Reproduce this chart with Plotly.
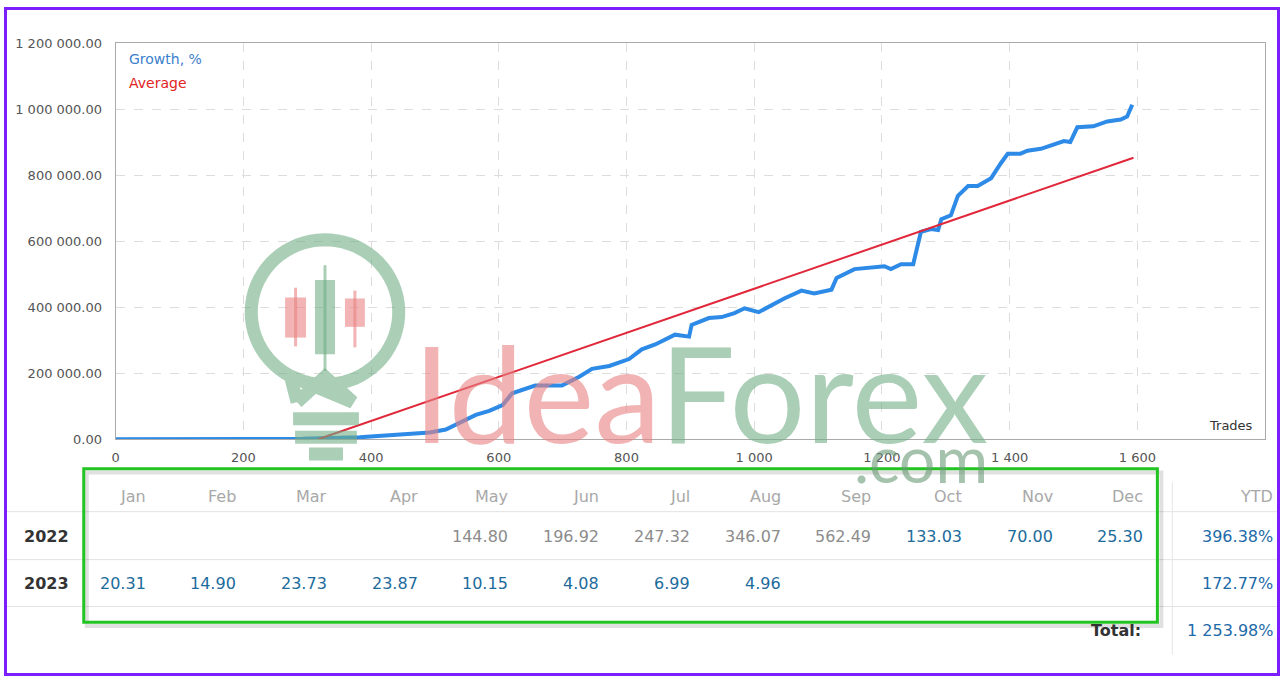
import plotly.graph_objects as go
import numpy as np

W, H = 1280, 684

# ---------------- data ----------------
trades = [0, 150, 293, 382, 434, 492, 517, 532, 543, 564, 585, 606, 621, 657, 699, 726, 746,
          773, 804, 824, 845, 876, 898, 902, 929, 949, 969, 985, 1007, 1027, 1047, 1074,
          1094, 1121, 1129, 1157, 1204, 1214, 1230, 1249, 1261, 1277, 1288, 1293, 1308,
          1319, 1335, 1350, 1371, 1386, 1397, 1417, 1428, 1449, 1469, 1485, 1495, 1506,
          1531, 1553, 1574, 1584, 1592]
growth = [0, 0, 1500, 5900, 11800, 20700, 29600, 44400, 56300, 74100, 85900, 103700,
          139300, 163000, 163000, 189600, 213300, 222200, 243000, 272600, 287400, 317000,
          311100, 346700, 367400, 370400, 382200, 397000, 385200, 405900, 426700, 450400,
          441500, 453300, 488900, 515600, 524400, 515600, 530400, 530400, 628200, 637000,
          634100, 666700, 678500, 737800, 767400, 767400, 791100, 835600, 865200, 865200,
          874100, 880000, 894800, 903700, 900700, 945200, 948100, 963000, 968900, 977800,
          1013300]
avg_trades = [317, 1594]
avg_values = [0, 853000]

y_tickvals = [0, 200000, 400000, 600000, 800000, 1000000, 1200000]
y_ticktext = ["0.00", "200 000.00", "400 000.00", "600 000.00", "800 000.00",
              "1 000 000.00", "1 200 000.00"]
x_tickvals = [0, 200, 400, 600, 800, 1000, 1200, 1400, 1600, 1800]
x_ticktext = ["0", "200", "400", "600", "800", "1 000", "1 200", "1 400", "1 600", "1 800"]

months = ["Jan", "Feb", "Mar", "Apr", "May", "Jun", "Jul", "Aug", "Sep", "Oct", "Nov", "Dec"]
years = ["2022", "2023"]
values_2022 = ["", "", "", "", "144.80", "196.92", "247.32", "346.07", "562.49", "133.03", "70.00", "25.30"]
values_2023 = ["20.31", "14.90", "23.73", "23.87", "10.15", "4.08", "6.99", "4.96", "", "", "", ""]
grey_2022 = [False, False, False, False, True, True, True, True, True, False, False, False]
ytd = ["396.38%", "172.77%"]
total = "1 253.98%"

# ---------------- helpers (pixel -> paper) ----------------
def X(px):
    return px / W

def Y(py):
    return 1 - py / H

fig = go.Figure()
fig.add_trace(go.Scatter(x=trades, y=growth, mode="lines", name="Growth, %",
                         line=dict(color="#2d8ae6", width=4), showlegend=False))
fig.add_trace(go.Scatter(x=avg_trades, y=avg_values, mode="lines", name="Average",
                         line=dict(color="#e0283a", width=2), showlegend=False))

axis_font = dict(family="DejaVu Sans", size=13, color="#555555")
fig.update_xaxes(domain=[X(112), X(1265)], range=[0, 1800], tickvals=x_tickvals,
                 ticktext=x_ticktext, tickfont=axis_font, showgrid=True,
                 gridcolor="#dddddd", griddash="dash", gridwidth=1, zeroline=False,
                 showline=True, linecolor="#aaaaaa", linewidth=1, mirror=True,
                 ticks="", ticklabelstandoff=6)
fig.update_yaxes(domain=[Y(442), Y(37)], range=[0, 1200000], tickvals=y_tickvals,
                 ticktext=y_ticktext, tickfont=axis_font, showgrid=True,
                 gridcolor="#dddddd", griddash="dash", gridwidth=1, zeroline=False,
                 showline=True, linecolor="#aaaaaa", linewidth=1, mirror=True,
                 ticks="", ticklabelstandoff=10)

ann = []
shapes = []

def text(px, py, s, size=16, color="#333", anchor="right", bold=False, family="DejaVu Sans", opacity=1):
    ann.append(dict(x=X(px), y=Y(py), xref="paper", yref="paper", text=("<b>%s</b>" % s) if bold else s,
                    showarrow=False, xanchor=anchor, yanchor="middle",
                    font=dict(family=family, size=size, color=color), opacity=opacity))

# legend texts inside the plot
text(123, 53, "Growth, %", size=14, color="#3a80cc", anchor="left")
text(123, 78, "Average", size=14, color="#e02424", anchor="left")
text(1255, 428, "Trades", size=13, color="#333333", anchor="right")

# ---------------- watermark ----------------
wm_pink = "#e98282"
wm_green = "#72ae86"
wm_op = 0.6
ann.append(dict(x=X(408), y=Y(309), xref="paper", yref="paper", showarrow=False,
                xanchor="left", yanchor="top", valign="top", height=136, opacity=wm_op,
                text="<span style='color:%s'>Idea</span><span style='color:%s'>Forex</span>" % (wm_pink, wm_green),
                font=dict(family="Lato", size=134)))
ann.append(dict(x=X(920), y=Y(462), xref="paper", yref="paper", showarrow=False,
                xanchor="center", yanchor="middle", opacity=0.6,
                text=".com", font=dict(family="Lato", size=64, color="#6a9a78")))

def path(pts, close=False):
    s = "M " + " L ".join("%.5f,%.5f" % (X(a), Y(b)) for a, b in pts)
    return s + (" Z" if close else "")

# bulb outline
cx, cy, r = 322, 312, 74
arc = [(cx + r * np.cos(a), cy + r * np.sin(a)) for a in np.linspace(np.deg2rad(118), np.deg2rad(-242), 70)]
bulb = [(294, 404)] + arc + [(350, 404), (322, 378), (294, 404)]
shapes.append(dict(type="path", xref="paper", yref="paper", path=path(bulb),
                   line=dict(color=wm_green, width=13), opacity=wm_op, layer="above"))
for (x0, x1, yy) in [(290, 356, 421), (292, 354, 440), (306, 340, 457)]:
    shapes.append(dict(type="line", xref="paper", yref="paper", x0=X(x0), x1=X(x1), y0=Y(yy), y1=Y(yy),
                       line=dict(color=wm_green, width=13), opacity=wm_op, layer="above"))
# candles
for (x0, x1, b0, b1, w0, w1, col) in [(282, 303, 297, 338, 287, 347, wm_pink),
                                       (312, 332, 279, 355, 264, 372, wm_green),
                                       (342, 362, 298, 327, 290, 348, wm_pink)]:
    xm = (x0 + x1) / 2
    shapes.append(dict(type="line", xref="paper", yref="paper", x0=X(xm), x1=X(xm), y0=Y(w0), y1=Y(w1),
                       line=dict(color=col, width=3), opacity=wm_op, layer="above"))
    shapes.append(dict(type="rect", xref="paper", yref="paper", x0=X(x0), x1=X(x1), y0=Y(b0), y1=Y(b1),
                       line=dict(width=0), fillcolor=col, opacity=wm_op, layer="above"))

# ---------------- table ----------------
col_right = [144 + 91.0 * i for i in range(12)]
for i, m in enumerate(months):
    text(col_right[i], 500, m, size=16, color="#a8a8a8")
text(1275, 500, "YTD", size=16, color="#a8a8a8")

text(18, 541, years[0], size=16, color="#333333", anchor="left", bold=True)
text(18, 589, years[1], size=16, color="#333333", anchor="left", bold=True)
for i in range(12):
    if values_2022[i]:
        text(col_right[i], 541, values_2022[i], size=16, color="#8c8c8c" if grey_2022[i] else "#1d6b9c")
    if values_2023[i]:
        text(col_right[i], 589, values_2023[i], size=16, color="#1d6b9c")
text(1275, 541, ytd[0], size=16, color="#1d6aa8")
text(1275, 589, ytd[1], size=16, color="#1d6aa8")
text(1143, 637, "Total:", size=16, color="#333333", bold=True)
text(1275, 637, total, size=16, color="#1d6aa8")

for yy in [516, 565, 613]:
    shapes.append(dict(type="line", xref="paper", yref="paper", x0=0, x1=1, y0=Y(yy), y1=Y(yy),
                       line=dict(color="#e2e2e2", width=1)))
shapes.append(dict(type="line", xref="paper", yref="paper", x0=X(1172), x1=X(1172), y0=Y(486), y1=Y(662),
                   line=dict(color="#e6e6e6", width=1)))

# green highlight frame (with faint shadow)
shapes.append(dict(type="rect", xref="paper", yref="paper", x0=X(83), x1=X(1161), y0=Y(476), y1=Y(633),
                   line=dict(color="rgba(0,0,0,0.12)", width=4)))
shapes.append(dict(type="rect", xref="paper", yref="paper", x0=X(80), x1=X(1157), y0=Y(472), y1=Y(629),
                   line=dict(color="#22c422", width=3)))

# purple outer frame
shapes.append(dict(type="rect", xref="paper", yref="paper", x0=X(1.5), x1=X(1278.5), y0=Y(1.5), y1=Y(682.5),
                   line=dict(color="#7b1fff", width=3)))

fig.update_layout(width=W, height=H, margin=dict(l=0, r=0, t=0, b=0),
                  paper_bgcolor="white", plot_bgcolor="rgba(0,0,0,0)",
                  annotations=ann, shapes=shapes, showlegend=False)

post = ("document.documentElement.style.margin='0';document.body.style.margin='0';"
        "document.body.style.padding='0';document.body.style.overflow='hidden';"
        "document.documentElement.style.overflow='hidden';")

fig.write_html("out.html", config={"displayModeBar": False}, post_script=post)
